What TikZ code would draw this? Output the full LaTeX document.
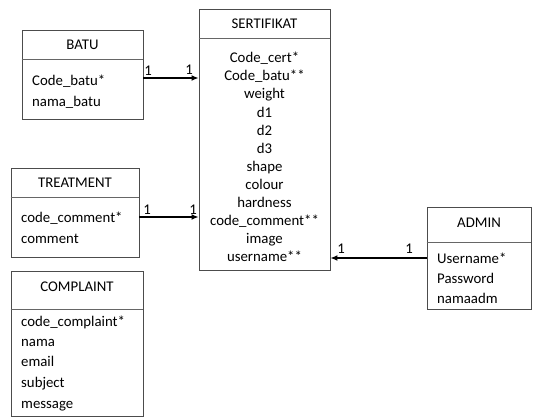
\documentclass[tikz,border=0pt]{standalone}
\usepackage{fontspec}
\setmainfont{Carlito}
\usetikzlibrary{arrows.meta}
\begin{document}
\begin{tikzpicture}[x=1pt,y=-1pt,
  box/.style={draw=black!70,line width=0.9pt,rectangle,inner sep=0pt},
  divider/.style={draw=black!60,line width=0.9pt},
  title/.style={font=\fontsize{14.8}{16}\selectfont,inner sep=0pt},
  attr/.style={font=\fontsize{14.8}{16}\selectfont,inner sep=0pt,anchor=base west},
  cattr/.style={font=\fontsize{14.8}{16}\selectfont,inner sep=0pt,anchor=base},
  card/.style={font=\fontsize{14.8}{16}\selectfont,inner sep=0pt,anchor=base},
  rel/.style={draw=black,line width=1.3pt,-{Latex[length=7pt,width=6pt]}}
]
\useasboundingbox (0,0) rectangle (534,417);
% BATU
\node[box,minimum width=121pt,minimum height=89pt] (batu) at (82.5,74.5) {};
\draw[divider] (batu.west |- 0,59) -- (batu.east |- 0,59);
\node[title] (batut) at (82.5,45) {BATU};
\node[attr] (b1) at (32,85) {Code\_batu*};
\node[attr] (b2) at (32,106) {nama\_batu};
% SERTIFIKAT
\node[box,minimum width=131pt,minimum height=261pt] (sert) at (264.5,139.5) {};
\draw[divider] (sert.west |- 0,38) -- (sert.east |- 0,38);
\node[title] (sertt) at (264.5,24) {SERTIFIKAT};
\foreach \t [count=\i] in {Code\_cert*,Code\_batu**,weight,d1,d2,d3,shape,colour,hardness,code\_comment**,image,username**}{
  \node[cattr] (s\i) at (264.5,45+\i*18) {\t};
}
% TREATMENT
\node[box,minimum width=128pt,minimum height=89pt] (treat) at (75,212.5) {};
\draw[divider] (treat.west |- 0,197) -- (treat.east |- 0,197);
\node[title] (treatt) at (75,183) {TREATMENT};
\node[attr] (t1) at (21,222) {code\_comment*};
\node[attr] (t2) at (21,243) {comment};
% COMPLAINT
\node[box,minimum width=132pt,minimum height=145pt] (comp) at (77,343.5) {};
\draw[divider] (comp.west |- 0,309) -- (comp.east |- 0,309);
\node[title] (compt) at (77,287) {COMPLAINT};
\node[attr] (c1) at (21,326) {code\_complaint*};
\node[attr] (c2) at (21,346) {nama};
\node[attr] (c3) at (21,366) {email};
\node[attr] (c4) at (21,387) {subject};
\node[attr] (c5) at (21,408) {message};
% ADMIN
\node[box,minimum width=104pt,minimum height=102pt] (admin) at (479,258) {};
\draw[divider] (admin.west |- 0,242) -- (admin.east |- 0,242);
\node[title] (admint) at (479,223) {ADMIN};
\node[attr] (a1) at (437,263) {Username*};
\node[attr] (a2) at (437,283) {Password};
\node[attr] (a3) at (437,303) {namaadm};
% relations
\draw[rel] (batu.east |- 0,78) -- (sert.west |- 0,78);
\node[card] (l1) at (148,76) {1};
\node[card] (l2) at (189,75) {1};
\draw[rel] (treat.east |- 0,217) -- (sert.west |- 0,217);
\node[card] (l3) at (147,214) {1};
\node[card] (l4) at (193,214) {1};
\draw[rel] (admin.west |- 0,258) -- (sert.east |- 0,258);
\node[card] (l5) at (341,253) {1};
\node[card] (l6) at (409,253) {1};
\end{tikzpicture}
\end{document}
